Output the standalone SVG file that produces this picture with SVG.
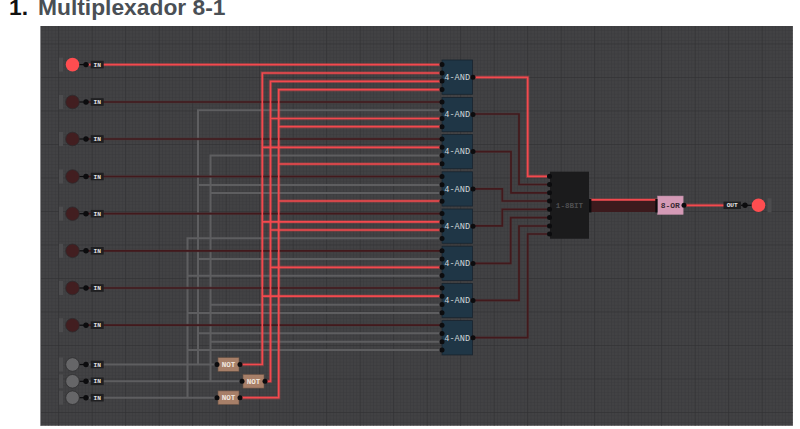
<svg xmlns="http://www.w3.org/2000/svg" width="800" height="429" viewBox="0 0 800 429">
<style>
text{font-family:"Liberation Mono","DejaVu Sans Mono",monospace;font-weight:700;text-anchor:middle}
.title{font-family:"Liberation Sans",Arial,sans-serif;font-size:22.8px;text-anchor:start}
.w{fill:none;stroke-linejoin:miter}
.r{stroke:#f4494e;stroke-width:1.7}
.rg{stroke:#f0484c;stroke-opacity:.28;stroke-width:3.4}
.d{stroke:#42191c;stroke-width:1.7}
.dg{stroke:#4d3a3c;stroke-opacity:.55;stroke-width:2.8}
.g{stroke:#5e5e60;stroke-width:2}
.btn{fill:#4c4c4e}
.on{fill:#ff4d50}
.off{fill:#421e20;stroke:#2e2a2c;stroke-width:.8}
.idle{fill:#666668;stroke:#2e2e30;stroke-width:.8}
.pin{fill:#0c0c0e}
.lb{fill:#1f1f21}
.lt{fill:#e4e4e4;font-size:6.2px}
.and{fill:#1f3646;stroke:#18242e;stroke-width:.8}
.at{fill:#cfd6da;font-size:8.6px;font-weight:400}
.not{fill:#a77f68;stroke:#6a5345;stroke-width:.6}
.nt{fill:#f0e6de;font-size:7.6px}
</style>
<defs>
<pattern id="minor" width="3.35" height="3.35" patternUnits="userSpaceOnUse" x="24.7" y="10"><path d="M0 0H3.35M0 0V3.35" fill="none" stroke="#39393b" stroke-width="1"/></pattern>
<pattern id="major" width="33.5" height="33.5" patternUnits="userSpaceOnUse" x="24.7" y="10"><path d="M0 0H33.5M0 0V33.5" fill="none" stroke="#2f2f31" stroke-width="1"/></pattern>
<g id="p"><circle r="2.5" class="pin"/></g>
<g id="src"><rect x="-13.5" y="-7" width="4" height="14" class="btn"/><path d="M6 0H16" stroke="#0c0c0e" stroke-width="1.2"/><circle cx="13.5" r="2.7" class="pin"/><rect x="18.2" y="-3.8" width="13" height="7.6" class="lb"/><text x="24.7" y="2.1" class="lt">IN</text></g>
<g id="andpins"><use href="#p" y="4.6"/><use href="#p" y="12.9"/><use href="#p" y="21.1"/><use href="#p" y="29.4"/><use href="#p" x="31" y="17.2"/></g>
</defs>
<rect width="800" height="429" fill="#fff"/>
<text class="title" x="9" y="14.6" style="fill:#111">1.</text>
<text class="title" x="38" y="14.6" style="fill:#4a4f55">Multiplexador 8-1</text>
<rect x="40.5" y="26" width="752.3" height="399.7" fill="#424244"/>
<rect x="40.5" y="26" width="752.3" height="399.7" fill="url(#minor)"/>
<rect x="40.5" y="26" width="752.3" height="399.7" fill="url(#major)"/>
<path d="M40.5 26V425.7" stroke="#8a8a8c" stroke-width="1" fill="none"/>

<g id="connectors">
<g class="w g">
<path d="M88 364.5H217M198 364.5V110.3H440M198 185H440M198 259H440M198 333.3H440"/>
<path d="M88 381.3H242M210.5 381.3V155.5H440M210.5 193H440M210.5 304.7H440M210.5 341.7H440"/>
<path d="M88 397.7H217M187.5 397.7V238.3H440M187.5 275.7H440M187.5 313H440M187.5 350H440"/>
</g>
<g class="w rg">
<path d="M240 364.5H262.3V73H440M262.3 147.3H440M262.3 221.8H440M262.3 296.2H440"/>
<path d="M265 381.3H270.5V81.3H440M270.5 118.5H440M270.5 230H440M270.5 267.3H440"/>
<path d="M240 397.7H278.7V89.7H440M278.7 126.7H440M278.7 164H440M278.7 201H440"/>
<path d="M88 64.6H440"/><path d="M473 77.3H527.7V176.3H547"/><path d="M685 205.3H725"/>
</g>
<g class="w dg">
<path d="M88 102H440M88 139H440M88 176.5H440M88 213.7H440M88 250.8H440M88 288H440M88 325.2H440"/>
<path d="M473 114H519V184.5H547M473 151.6H511V192.8H547M473 188.8H502.3V201H547M473 225.8H502.3V209.3H547M473 263.3H510.7V217.6H547M473 300.4H519V226H547M473 337.7H527.7V234H547"/>
</g>
<g class="w d">
<path d="M88 102H440M88 139H440M88 176.5H440M88 213.7H440M88 250.8H440M88 288H440M88 325.2H440"/>
<path d="M473 114H519V184.5H547M473 151.6H511V192.8H547M473 188.8H502.3V201H547M473 225.8H502.3V209.3H547M473 263.3H510.7V217.6H547M473 300.4H519V226H547M473 337.7H527.7V234H547"/>
</g>
<g class="w r">
<path d="M240 364.5H262.3V73H440M262.3 147.3H440M262.3 221.8H440M262.3 296.2H440"/>
<path d="M265 381.3H270.5V81.3H440M270.5 118.5H440M270.5 230H440M270.5 267.3H440"/>
<path d="M240 397.7H278.7V89.7H440M278.7 126.7H440M278.7 164H440M278.7 201H440"/>
<path d="M88 64.6H440"/><path d="M473 77.3H527.7V176.3H547"/><path d="M685 205.3H725"/>
</g>
<rect x="590" y="200.5" width="67" height="11.5" fill="#3c1a1d"/>
<path d="M590 199.8H657" fill="none" stroke="#f4494e" stroke-width="1.9"/>
</g>

<g id="in0" transform="translate(72.5 64.6)"><use href="#src"/><circle r="6.8" class="on"/></g>
<g id="in1" transform="translate(72.5 102)"><use href="#src"/><circle r="6.8" class="off"/></g>
<g id="in2" transform="translate(72.5 139)"><use href="#src"/><circle r="6.8" class="off"/></g>
<g id="in3" transform="translate(72.5 176.5)"><use href="#src"/><circle r="6.8" class="off"/></g>
<g id="in4" transform="translate(72.5 213.7)"><use href="#src"/><circle r="6.8" class="off"/></g>
<g id="in5" transform="translate(72.5 250.8)"><use href="#src"/><circle r="6.8" class="off"/></g>
<g id="in6" transform="translate(72.5 288)"><use href="#src"/><circle r="6.8" class="off"/></g>
<g id="in7" transform="translate(72.5 325.2)"><use href="#src"/><circle r="6.8" class="off"/></g>
<g id="s2" transform="translate(72.5 364.5)"><use href="#src"/><circle r="6.8" class="idle"/></g>
<g id="s1" transform="translate(72.5 381.3)"><use href="#src"/><circle r="6.8" class="idle"/></g>
<g id="s0" transform="translate(72.5 397.7)"><use href="#src"/><circle r="6.8" class="idle"/></g>

<g id="not2" transform="translate(218 357.7)"><rect width="21" height="13.6" class="not"/><use href="#p" x="-1" y="6.8"/><use href="#p" x="22" y="6.8"/><text x="10.5" y="9.4" class="nt">NOT</text></g>
<g id="not1" transform="translate(243 374.5)"><rect width="21" height="13.6" class="not"/><use href="#p" x="-1" y="6.8"/><use href="#p" x="22" y="6.8"/><text x="10.5" y="9.4" class="nt">NOT</text></g>
<g id="not0" transform="translate(218 390.9)"><rect width="21" height="13.6" class="not"/><use href="#p" x="-1" y="6.8"/><use href="#p" x="22" y="6.8"/><text x="10.5" y="9.4" class="nt">NOT</text></g>

<g id="and0" transform="translate(442 60)"><rect width="30.5" height="34.3" class="and"/><use href="#andpins"/><text x="15.2" y="20" class="at">4-AND</text></g>
<g id="and1" transform="translate(442 97.4)"><rect width="30.5" height="34.3" class="and"/><use href="#andpins"/><text x="15.2" y="20" class="at">4-AND</text></g>
<g id="and2" transform="translate(442 134.4)"><rect width="30.5" height="34.3" class="and"/><use href="#andpins"/><text x="15.2" y="20" class="at">4-AND</text></g>
<g id="and3" transform="translate(442 171.8)"><rect width="30.5" height="34.3" class="and"/><use href="#andpins"/><text x="15.2" y="20" class="at">4-AND</text></g>
<g id="and4" transform="translate(442 209)"><rect width="30.5" height="34.3" class="and"/><use href="#andpins"/><text x="15.2" y="20" class="at">4-AND</text></g>
<g id="and5" transform="translate(442 246.2)"><rect width="30.5" height="34.3" class="and"/><use href="#andpins"/><text x="15.2" y="20" class="at">4-AND</text></g>
<g id="and6" transform="translate(442 283.4)"><rect width="30.5" height="34.3" class="and"/><use href="#andpins"/><text x="15.2" y="20" class="at">4-AND</text></g>
<g id="and7" transform="translate(442 320.6)"><rect width="30.5" height="34.3" class="and"/><use href="#andpins"/><text x="15.2" y="20" class="at">4-AND</text></g>

<g id="mux">
<rect x="550" y="171.7" width="39" height="67" fill="#1b1b1c"/>
<use href="#p" x="549.5" y="176.3"/><use href="#p" x="549.5" y="184.5"/><use href="#p" x="549.5" y="192.8"/><use href="#p" x="549.5" y="201"/><use href="#p" x="549.5" y="209.3"/><use href="#p" x="549.5" y="217.6"/><use href="#p" x="549.5" y="226"/><use href="#p" x="549.5" y="234"/>
<rect x="589" y="199" width="2.4" height="13.5" class="pin"/>
<text x="569.5" y="208" style="fill:#4f4f51;font-size:7.6px">1-8BIT</text>
</g>

<g id="or">
<rect x="657.5" y="196" width="25.7" height="18.6" fill="#d49ab6" stroke="#a98096" stroke-width=".5"/>
<rect x="655.3" y="199" width="2.2" height="13.5" class="pin"/><use href="#p" x="684" y="205.3"/>
<text x="670.3" y="208.2" style="fill:#3a2a32;font-size:8px">8-OR</text>
</g>

<g id="out">
<rect x="723.5" y="201.6" width="17.5" height="7.4" class="lb"/>
<text x="732.2" y="207.4" class="lt">OUT</text>
<path d="M741 205.3H752" stroke="#0c0c0e" stroke-width="1.2"/>
<circle cx="745" cy="205.3" r="2.7" class="pin"/>
<circle cx="758.5" cy="205.3" r="6.8" class="on"/>
<rect x="767.5" y="198.3" width="4" height="14" class="btn"/>
</g>
</svg>
